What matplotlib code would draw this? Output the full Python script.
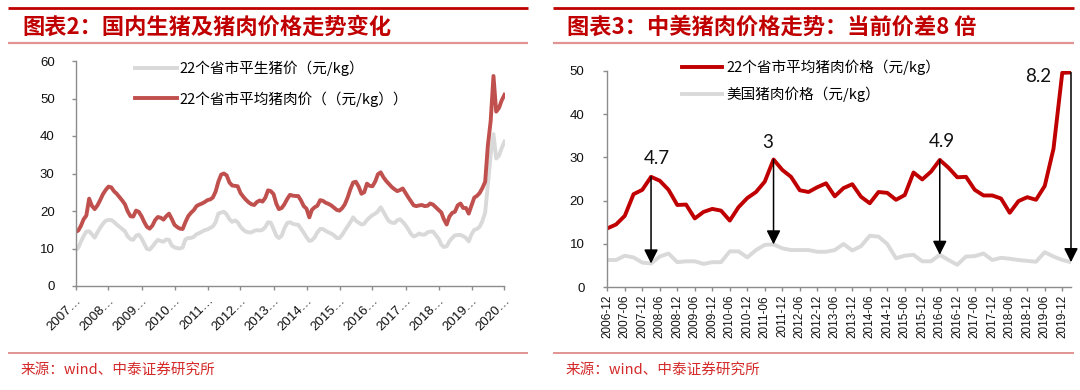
import matplotlib
matplotlib.use('Agg')
import matplotlib.pyplot as plt
from matplotlib.lines import Line2D
import pandas as pd

# ---------------- data ----------------
# Left chart: monthly, 2007-01 .. 2020-01
months_left = pd.date_range('2007-01-01', '2020-01-01', freq='MS')
live_hog_price = [
    9.5, 10.2, 11.8, 13.3, 14.5, 14.6, 13.8, 12.9, 14.3, 15.5, 16.6, 17.4,   # 2007
    17.6, 17.6, 17.1, 16.4, 15.8, 15.2, 14.6, 13.2, 12.5, 12.3, 13.4, 13.7,  # 2008
    12.7, 11.2, 9.9, 9.7, 10.5, 11.5, 12.3, 12.0, 11.8, 12.4, 12.3, 10.8,    # 2009
    10.3, 10.1, 10.0, 10.3, 12.4, 12.8, 12.8, 13.1, 13.8, 14.1, 14.5, 14.9,  # 2010
    15.1, 15.5, 15.9, 17.0, 19.3, 19.6, 19.8, 19.1, 17.8, 17.1, 17.5, 17.0,  # 2011
    15.8, 15.0, 14.5, 14.3, 14.3, 14.7, 14.9, 14.8, 15.0, 15.7, 17.0, 16.9,  # 2012
    15.2, 13.4, 12.8, 13.4, 15.4, 16.8, 17.0, 16.6, 16.4, 16.3, 15.3, 14.2,  # 2013
    13.0, 12.0, 12.2, 13.0, 14.3, 15.2, 15.2, 14.7, 14.3, 14.0, 13.5, 12.8,  # 2014
    12.8, 13.7, 14.8, 15.9, 17.0, 18.3, 17.4, 16.9, 16.4, 16.6, 17.6, 18.3,  # 2015
    18.9, 19.3, 19.9, 21.0, 19.8, 18.4, 17.3, 16.9, 16.8, 17.5, 17.8, 17.1,  # 2016
    16.2, 15.1, 13.9, 13.2, 13.5, 14.0, 13.7, 13.7, 14.3, 14.5, 14.5, 13.6,  # 2017
    12.6, 11.0, 10.4, 10.6, 11.9, 12.8, 13.5, 13.6, 13.6, 13.3, 12.8, 11.9,  # 2018
    13.8, 15.0, 15.2, 15.8, 17.3, 19.6, 27.0, 35.0, 40.5, 34.0, 34.8, 36.8,  # 2019
    38.5,                                                                    # 2020
]
pork_price_left = [
    14.4, 14.8, 16.0, 17.8, 18.8, 23.3, 21.4, 20.5, 21.5, 22.9, 24.5, 25.6,  # 2007
    26.5, 26.3, 25.3, 24.6, 23.7, 22.8, 21.8, 19.9, 18.6, 18.5, 20.1, 19.8,  # 2008
    18.6, 17.0, 15.8, 15.3, 16.1, 17.6, 18.4, 18.2, 17.7, 18.6, 19.3, 17.9,  # 2009
    16.3, 15.7, 15.3, 15.2, 17.0, 18.6, 19.5, 20.2, 21.3, 21.7, 22.0, 22.4,  # 2010
    22.9, 23.1, 23.6, 25.2, 27.8, 29.7, 30.0, 29.5, 27.6, 26.8, 26.7, 26.6,  # 2011
    24.8, 23.8, 23.0, 22.3, 21.8, 21.6, 22.4, 22.8, 22.5, 23.5, 25.5, 25.3,  # 2012
    24.5, 21.9, 20.5, 20.8, 21.8, 23.2, 24.3, 24.1, 24.0, 24.0, 22.8, 21.3,  # 2013
    20.6, 18.3, 20.3, 21.0, 21.4, 22.9, 22.7, 22.2, 21.9, 21.5, 20.9, 20.3,  # 2014
    20.1, 20.8, 21.8, 23.6, 25.8, 27.6, 27.8, 26.5, 24.6, 25.0, 27.3, 26.7,  # 2015
    26.6, 27.9, 29.8, 30.3, 29.0, 28.0, 27.2, 26.4, 25.8, 25.3, 25.6, 26.0,  # 2016
    24.8, 23.6, 22.6, 21.5, 21.3, 21.5, 21.6, 21.3, 21.4, 22.0, 21.7, 21.0,  # 2017
    20.3, 19.6, 17.8, 16.4, 18.5, 19.5, 19.8, 21.5, 22.0, 20.8, 20.8, 19.3,  # 2018
    21.5, 23.6, 24.0, 24.8, 26.1, 27.8, 37.5, 44.0, 56.0, 46.5, 47.5, 49.5,  # 2019
    51.0,                                                                    # 2020
]
year_ticks = list(range(2007, 2021))
left_labels = ['22个省市平生猪价（元/kg）', '22个省市平均猪肉价（（元/kg））']

# Right chart: quarterly, 2006-12 .. 2020-03
all_quarters = [f'{y}-{m:02d}' for y in range(2006, 2021) for m in (3, 6, 9, 12)]
quarters = all_quarters[all_quarters.index('2006-12'):all_quarters.index('2020-03') + 1]
cn_pork_price = [13.6, 14.5, 16.5, 21.5, 22.5, 25.5, 24.6, 22.5, 19.0, 19.1, 15.9, 17.4,
                 18.1, 17.7, 15.4, 18.5, 20.6, 22.0, 24.4, 29.5, 27.1, 25.5, 22.4, 22.0,
                 23.1, 24.0, 21.0, 22.9, 23.8, 20.9, 19.4, 22.0, 21.8, 20.2, 21.3, 26.5,
                 24.9, 26.7, 29.4, 27.6, 25.4, 25.5, 22.5, 21.2, 21.2, 20.5, 17.2, 19.9,
                 20.8, 20.2, 23.4, 32.0, 49.5, 49.6]
us_pork_price = [6.3, 6.3, 7.3, 6.9, 5.7, 5.5, 7.1, 7.8, 5.8, 6.0, 6.0, 5.4,
                 5.8, 5.8, 8.3, 8.3, 6.9, 8.6, 9.8, 9.9, 9.0, 8.6, 8.6, 8.6,
                 8.2, 8.2, 8.6, 10.0, 8.5, 9.5, 11.9, 11.7, 10.0, 6.7, 7.3, 7.5,
                 6.0, 6.0, 7.5, 6.3, 5.2, 7.1, 7.2, 7.8, 6.3, 6.8, 6.6, 6.3,
                 6.1, 5.9, 8.1, 7.1, 6.3, 5.8]
gap_quarters = ['2008-03', '2011-09', '2016-06', '2020-03']
gap_labels = ['4.7', '3', '4.9', '8.2']
right_labels = ['22个省市平均猪肉价格（元/kg）', '美国猪肉价格（元/kg）']

titles = ['图表2：国内生猪及猪肉价格走势变化', '图表3：中美猪肉价格走势：当前价差8 倍']
source = '来源：wind、中泰证券研究所'

# ---------------- style ----------------
W, H = 1080, 390
CJK = ['Noto Sans CJK SC', 'DejaVu Sans']
plt.rcParams['font.family'] = ['Liberation Sans', 'Noto Sans CJK SC', 'DejaVu Sans']
AX_COL = '#8c8c8c'
TITLE_RED = '#C00000'
LIGHT_RED = '#E29494'

fig = plt.figure(figsize=(W / 100, H / 100), dpi=100)


def fx(px):
    return px / W


def fy(py):
    return 1 - py / H


def hline(x0, x1, y, color, lw):
    fig.add_artist(Line2D([fx(x0), fx(x1)], [fy(y), fy(y)], transform=fig.transFigure,
                          color=color, lw=lw, solid_capstyle='butt'))


def style_axes(ax, ypad):
    for s in ('top', 'right'):
        ax.spines[s].set_visible(False)
    for s in ('left', 'bottom'):
        ax.spines[s].set_color(AX_COL)
        ax.spines[s].set_linewidth(1.0)
    ax.tick_params(axis='both', direction='out', length=3, width=1.0, color=AX_COL,
                   labelcolor='#111111')
    ax.tick_params(axis='y', labelsize=9.5, pad=ypad)


# ---- frame lines / titles / sources ----
for (x0, x1) in [(7.5, 528), (553, 1074)]:
    hline(x0, x1, 7.5, TITLE_RED, 2.0)
    hline(x0, x1, 43, LIGHT_RED, 1.6)
    hline(x0, x1, 352.7, LIGHT_RED, 1.4)

fig.text(fx(22), fy(27.5), titles[0], color=TITLE_RED, fontsize=16, fontweight='bold',
         ha='left', va='center', family=CJK)
fig.text(fx(567.5), fy(27.5), titles[1], color=TITLE_RED, fontsize=16, fontweight='bold',
         ha='left', va='center', family=CJK)
fig.text(fx(20.7), fy(370), source, color='#D42A2A', fontsize=10.5, ha='left', va='center', family=CJK)
fig.text(fx(566), fy(370), source, color='#D42A2A', fontsize=10.5, ha='left', va='center', family=CJK)

# ---------------- left chart ----------------
ax1 = fig.add_axes([fx(75.5), fy(286), fx(504.5) - fx(75.5), fy(61) - fy(286)])
l_gray, = ax1.plot(months_left, live_hog_price, color='#D9D9D9', lw=2.8, solid_joinstyle='round')
l_red, = ax1.plot(months_left, pork_price_left, color='#C0504D', lw=2.8, solid_joinstyle='round')
ax1.set_ylim(0, 60)
ax1.set_yticks(range(0, 61, 10))
ax1.set_xlim(pd.Timestamp('2007-01-01'), pd.Timestamp('2020-01-01'))
ax1.set_xticks([pd.Timestamp(f'{y}-01-01') for y in year_ticks])
ax1.set_xticklabels([f'{y}…' for y in year_ticks], rotation=45, ha='right',
                    rotation_mode='anchor', fontsize=9.5)
style_axes(ax1, 12)
ax1.tick_params(axis='x', pad=3)
ax1.legend(handles=[l_gray, l_red], labels=left_labels, loc='upper left',
           bbox_to_anchor=(fx(135), fy(61)), bbox_transform=fig.transFigure,
           frameon=False, borderpad=0, borderaxespad=0, handlelength=2.9,
           handletextpad=0.15, labelspacing=1.0, prop={'family': CJK, 'size': 10.5})

# ---------------- right chart ----------------
ax2 = fig.add_axes([fx(607.3), fy(287.3), fx(1071) - fx(607.3), fy(70.7) - fy(287.3)])
xq = list(range(len(quarters)))
r_gray, = ax2.plot(xq, us_pork_price, color='#D9D9D9', lw=2.8, solid_joinstyle='round')
r_red, = ax2.plot(xq, cn_pork_price, color='#C00000', lw=2.8, solid_joinstyle='round')
ax2.set_ylim(0, 50)
ax2.set_yticks(range(0, 51, 10))
ax2.set_xlim(0, len(quarters) - 1)
ax2.set_xticks(xq[::2])
ax2.set_xticklabels(quarters[::2], rotation=90, fontsize=8.5)
style_axes(ax2, 13.5)
ax2.tick_params(axis='x', pad=2.5)
ax2.legend(handles=[r_red, r_gray], labels=right_labels, loc='upper left',
           bbox_to_anchor=(fx(681.7), fy(60)), bbox_transform=fig.transFigure,
           frameon=False, borderpad=0, borderaxespad=0, handlelength=2.75,
           handletextpad=0.3, labelspacing=0.75, prop={'family': CJK, 'size': 10.5})

label_offsets = [(4.3, 13.4), (-4.4, 12.2), (1.6, 13.1), (-23.3, -3.1)]
for q, lab, off in zip(gap_quarters, gap_labels, label_offsets):
    i = quarters.index(q)
    ax2.annotate('', xy=(i, us_pork_price[i]), xytext=(i, cn_pork_price[i]),
                 arrowprops=dict(arrowstyle='-|>,head_length=0.6,head_width=0.3',
                                 color='black', lw=1.1, shrinkA=0, shrinkB=0,
                                 mutation_scale=14), annotation_clip=False)
    ax2.annotate(lab, xy=(i, cn_pork_price[i]), xytext=off, textcoords='offset points',
                 ha='center', va='center', fontsize=13.5, family=['Lato', 'DejaVu Sans'],
                 color='#111111')

fig.savefig('out.png', dpi=100)
